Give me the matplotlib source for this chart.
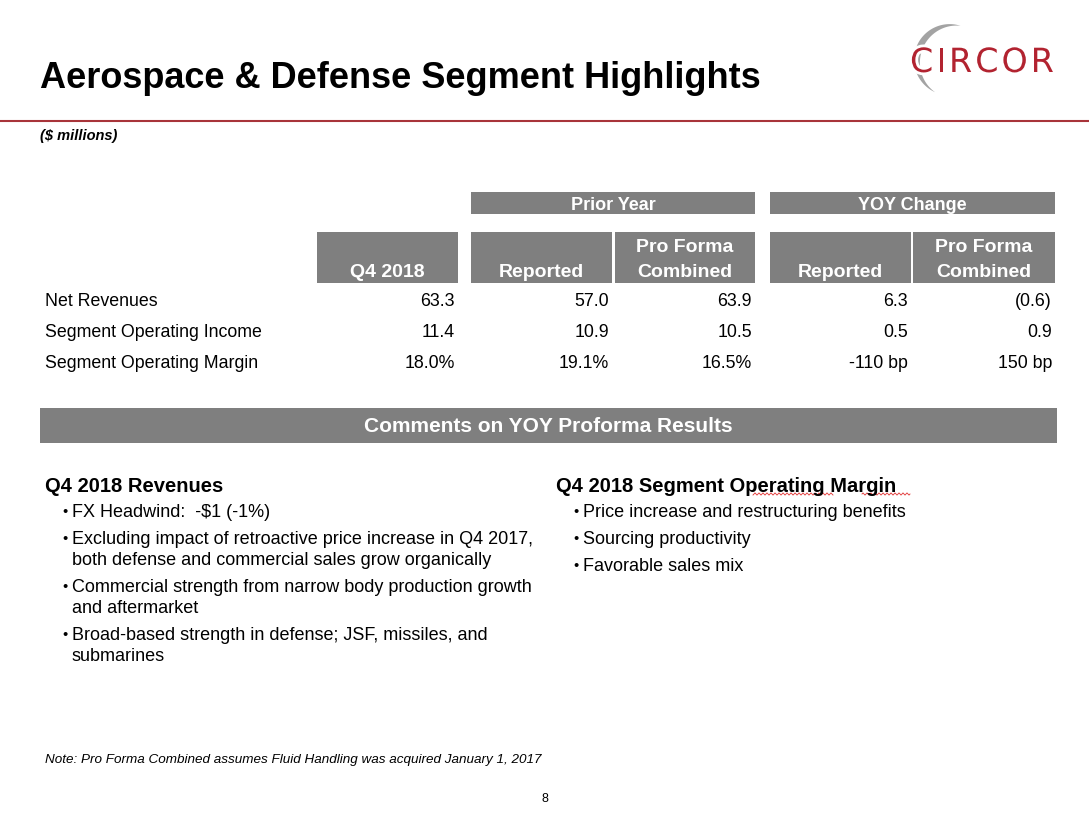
import matplotlib
matplotlib.use("Agg")
import matplotlib.pyplot as plt
import matplotlib.patheffects as pe
from matplotlib.patches import Rectangle, Polygon
import numpy as np

plt.rcParams['font.family'] = ['Liberation Sans', 'DejaVu Sans']

# table data
row_labels = ["Net Revenues", "Segment Operating Income", "Segment Operating Margin"]
q4_2018 = ["63.3", "11.4", "18.0%"]
prior_reported = ["57.0", "10.9", "19.1%"]
prior_proforma = ["63.9", "10.5", "16.5%"]
yoy_reported = ["6.3", "0.5", "-110 bp"]
yoy_proforma = ["(0.6)", "0.9", "150 bp"]

col_headers = ["Q4 2018", "Reported", "Pro Forma\nCombined", "Reported", "Pro Forma\nCombined"]
group_headers = ["Prior Year", "YOY Change"]

# comments
rev_title = "Q4 2018 Revenues"
rev_bullets = [
    "FX Headwind:  -$1 (-1%)",
    "Excluding impact of retroactive price increase in Q4 2017,\nboth defense and commercial sales grow organically",
    "Commercial strength from narrow body production growth\nand aftermarket",
    "Broad-based strength in defense; JSF, missiles, and\nsubmarines",
]
margin_title = "Q4 2018 Segment Operating Margin"
margin_bullets = [
    "Price increase and restructuring benefits",
    "Sourcing productivity",
    "Favorable sales mix",
]

GRAY = '#7F7F7F'
RED = '#A8343A'

fig = plt.figure(figsize=(10.89, 8.14), dpi=100)
ax = fig.add_axes([0, 0, 1, 1])
ax.set_xlim(0, 1089)
ax.set_ylim(814, 0)
ax.axis('off')

# title + rule
ax.text(40, 88, "Aerospace & Defense Segment Highlights", fontsize=26, fontweight='bold',
        va='baseline', ha='left', color='black')
ax.plot([0, 1089], [121, 121], color=RED, lw=1.5, solid_capstyle='butt')
ax.text(40, 140, "($ millions)", fontsize=10.5, fontweight='bold', style='italic', va='baseline')

# logo: swoosh + letter-spaced name
t = np.linspace(np.radians(78), np.radians(240), 100)
w = 3.2 * np.sin(np.pi * (t - t[0]) / (t[-1] - t[0]))
cx, cy, r = 953, 61, 36
outer = np.c_[cx + (r + w) * np.cos(t), cy - (r + w) * np.sin(t)]
inner = np.c_[cx + (r - w) * np.cos(t), cy - (r - w) * np.sin(t)]
ax.add_patch(Polygon(np.vstack([outer, inner[::-1]]), closed=True, color='#A3A3A3', lw=0))

renderer = fig.canvas.get_renderer()
x = 910
for ch in "CIRCOR":
    tx = ax.text(x, 72, ch, fontsize=24, color='#B22330', va='baseline', ha='left',
                 family='DejaVu Sans',
                 path_effects=[pe.withStroke(linewidth=4, foreground='white')])
    bb = tx.get_window_extent(renderer=renderer)
    x += bb.width + 3

# table headers
col_left = [317, 471, 615, 770, 913]
col_right = [458, 612, 755, 911, 1055]
for gl, gr, g in zip([471, 770], [755, 1055], group_headers):
    ax.add_patch(Rectangle((gl, 192), gr - gl, 22, color=GRAY, lw=0))
    ax.text((gl + gr) / 2, 210, g, fontsize=13, fontweight='bold', color='white',
            ha='center', va='baseline')
for l, rr, h in zip(col_left, col_right, col_headers):
    ax.add_patch(Rectangle((l, 232), rr - l, 51, color=GRAY, lw=0))
    lines = h.split("\n")
    for k, line in enumerate(lines[::-1]):
        ax.text((l + rr) / 2, 277 - 25 * k, line, fontsize=14, fontweight='bold', color='white',
                ha='center', va='baseline')

# table body
cols = [q4_2018, prior_reported, prior_proforma, yoy_reported, yoy_proforma]
for i, lab in enumerate(row_labels):
    y = 306 + 31 * i
    ax.text(45, y, lab, fontsize=12.8, va='baseline', ha='left')
    for c, rr in zip(cols, col_right):
        ax.text(rr - 3, y, c[i], fontsize=12.8, va='baseline', ha='right')

# comments bar
ax.add_patch(Rectangle((40, 408), 1017, 35, color=GRAY, lw=0))
ax.text(548, 426, "Comments on YOY Proforma Results", fontsize=15, fontweight='bold',
        color='white', ha='center', va='center')


def bullet_block(x, title, bullets):
    ax.text(x, 492, title, fontsize=14.5, fontweight='bold', va='baseline')
    y = 517
    for b in bullets:
        ax.text(x + 17, y - 1, "\u2022", fontsize=10.5, va='baseline', ha='left')
        for line in b.split("\n"):
            ax.text(x + 27, y, line, fontsize=13, va='baseline', ha='left')
            y += 21
        y += 6


bullet_block(45, rev_title, rev_bullets)
bullet_block(556, margin_title, margin_bullets)

# spell-check squiggles
for x0, x1 in [(753, 833), (862, 910)]:
    xs = np.linspace(x0, x1, int((x1 - x0) * 3))
    ax.plot(xs, 494 + 1.0 * np.sin(xs * np.pi / 2), color='#E03030', lw=0.6)

ax.text(45, 763, "Note: Pro Forma Combined assumes Fluid Handling was acquired January 1, 2017",
        fontsize=9.7, style='italic', va='baseline')
ax.text(545, 802, "8", fontsize=9, va='baseline', ha='center')

fig.savefig("out.png", dpi=100)
